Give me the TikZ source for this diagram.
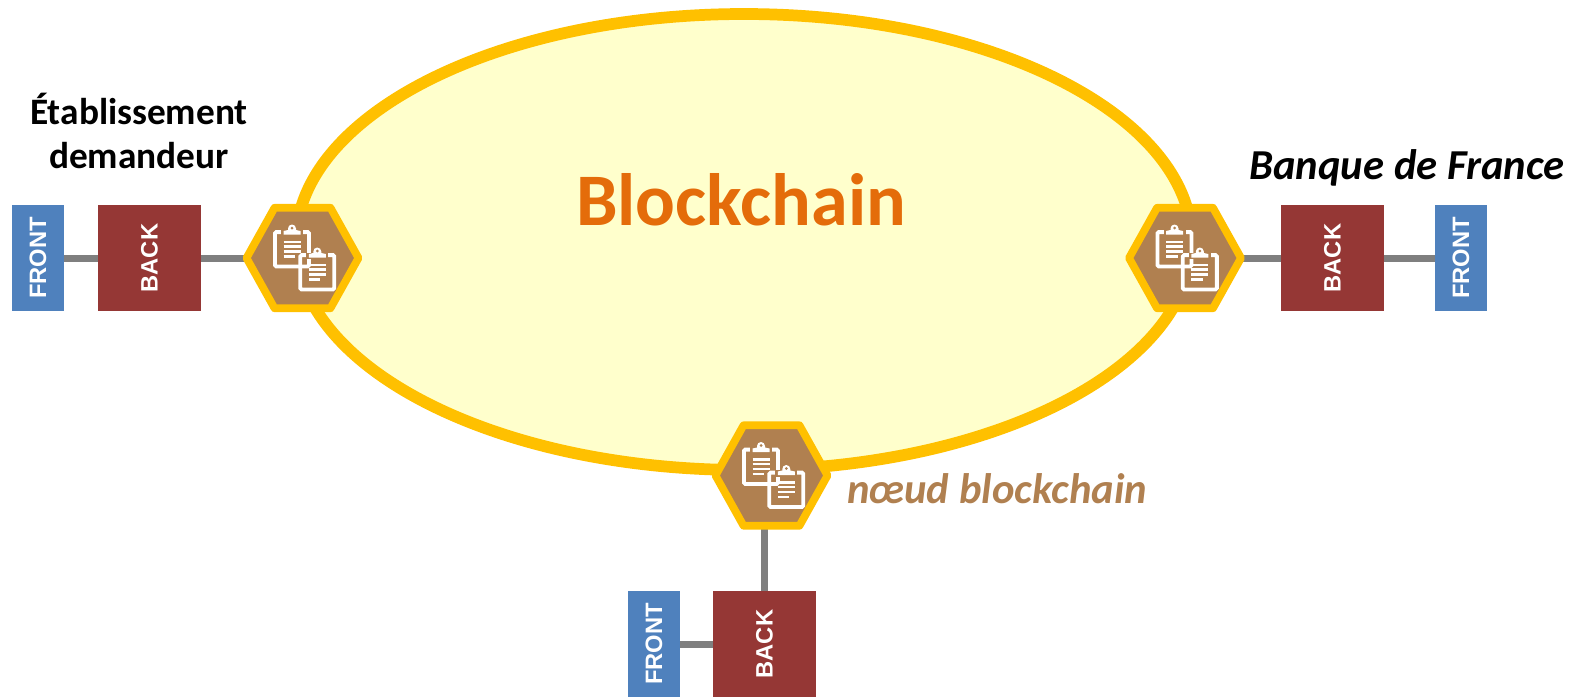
\documentclass[tikz,border=0pt]{standalone}
\usepackage{fontspec}
\setmainfont{Carlito}
\newfontfamily\arialf{Liberation Sans}
\definecolor{gold}{HTML}{FFC000}
\definecolor{pale}{HTML}{FFFFCC}
\definecolor{hexb}{HTML}{B08050}
\definecolor{frontc}{HTML}{4F81BD}
\definecolor{backc}{HTML}{953735}
\definecolor{linkc}{HTML}{7F7F7F}
\definecolor{titlec}{HTML}{E46C0A}
\tikzset{
  x=0.75pt,y=-0.75pt,
  frontbox/.style={fill=frontc,minimum width=39pt,minimum height=79.5pt,inner sep=0,font=\arialf\bfseries\fontsize{17.8}{20}\selectfont,text=white},
  backbox/.style={fill=backc,minimum width=77.25pt,minimum height=79.5pt,inner sep=0,font=\arialf\bfseries\fontsize{17.8}{20}\selectfont,text=white},
  link/.style={draw=linkc,line width=5.25pt},
  hexnode/.style={draw=gold,fill=hexb,line width=5.8pt,line join=round},
  clipline/.style={draw=white,line width=1.8pt},
  clipframe/.style={draw=white,line width=2.9pt,rounded corners=1pt},
  pics/clip/.style={code={
    \draw[clipframe] (-17,-17.4) rectangle (17,17);
    \fill[hexb] (-11,-20) rectangle (11,-13.5);
    \fill[white] (-8.5,-15) -- (-8.5,-18.5) -- (-4,-19.5) -- (-4,-21) arc[start angle=180,end angle=360,radius=4] -- (4,-19.5) -- (8.5,-18.5) -- (8.5,-15) -- cycle;
    \fill[hexb] (0,-21.5) circle (1.5);
    \draw[clipline] (-8.5,-7.7) -- (8.5,-7.7) (-8.5,-3) -- (8.5,-3) (-8.5,2) -- (8.5,2) (-8.5,7) -- (3,7);
  }},
  pics/hexa/.style={code={
    \path[hexnode] (-56,0) -- (-28,-50.2) -- (28,-50.2) -- (56,0) -- (28,50.2) -- (-28,50.2) -- cycle;
    \pic at (-10.5,-8.5) {clip};
    \pic at (14.8,14.5) {clip};
  }},
  lbl/.style={inner sep=0,font=\bfseries\fontsize{28}{33}\selectfont,align=center}
}
\begin{document}
\begin{tikzpicture}
\useasboundingbox (0,0) rectangle (1577,697);
\path[draw=gold,fill=pale,line width=8.8pt] (744,242) ellipse [x radius=448,y radius=228];
\node[inner sep=0,text=titlec,font=\bfseries\fontsize{55.6}{64}\selectfont] (title) at (741,200) {Blockchain};

\node[frontbox] (f1) at (38,258) {\rotatebox{90}{FRONT}};
\node[backbox] (b1) at (149.5,258) {\rotatebox{90}{BACK}};
\coordinate (h1) at (302.5,258);
\draw[link] (f1) -- (b1);
\draw[link] (b1) -- (h1);
\pic at (h1) {hexa};

\node[backbox] (b2) at (1332.5,258) {\rotatebox{90}{BACK}};
\node[frontbox] (f2) at (1461,258) {\rotatebox{90}{FRONT}};
\coordinate (h2) at (1185,258);
\draw[link] (f2) -- (b2);
\draw[link] (b2) -- (h2);
\pic at (h2) {hexa};

\node[frontbox] (f3) at (654,644) {\rotatebox{90}{FRONT}};
\node[backbox] (b3) at (764.5,644) {\rotatebox{90}{BACK}};
\coordinate (h3) at (771.5,475.5);
\coordinate (j3) at (764.5,475.5);
\draw[link] (f3) -- (b3);
\draw[link] (b3) -- (j3);
\pic at (h3) {hexa};

\node[lbl] (l1) at (139,131) {Établissement\\demandeur};
\node[lbl,font=\bfseries\itshape\fontsize{32}{38}\selectfont] (l2) at (1407,168) {Banque de France};
\node[lbl,text=hexb,font=\bfseries\itshape\fontsize{32}{38}\selectfont] (l3) at (997,489) {nœud blockchain};
\end{tikzpicture}
\end{document}
